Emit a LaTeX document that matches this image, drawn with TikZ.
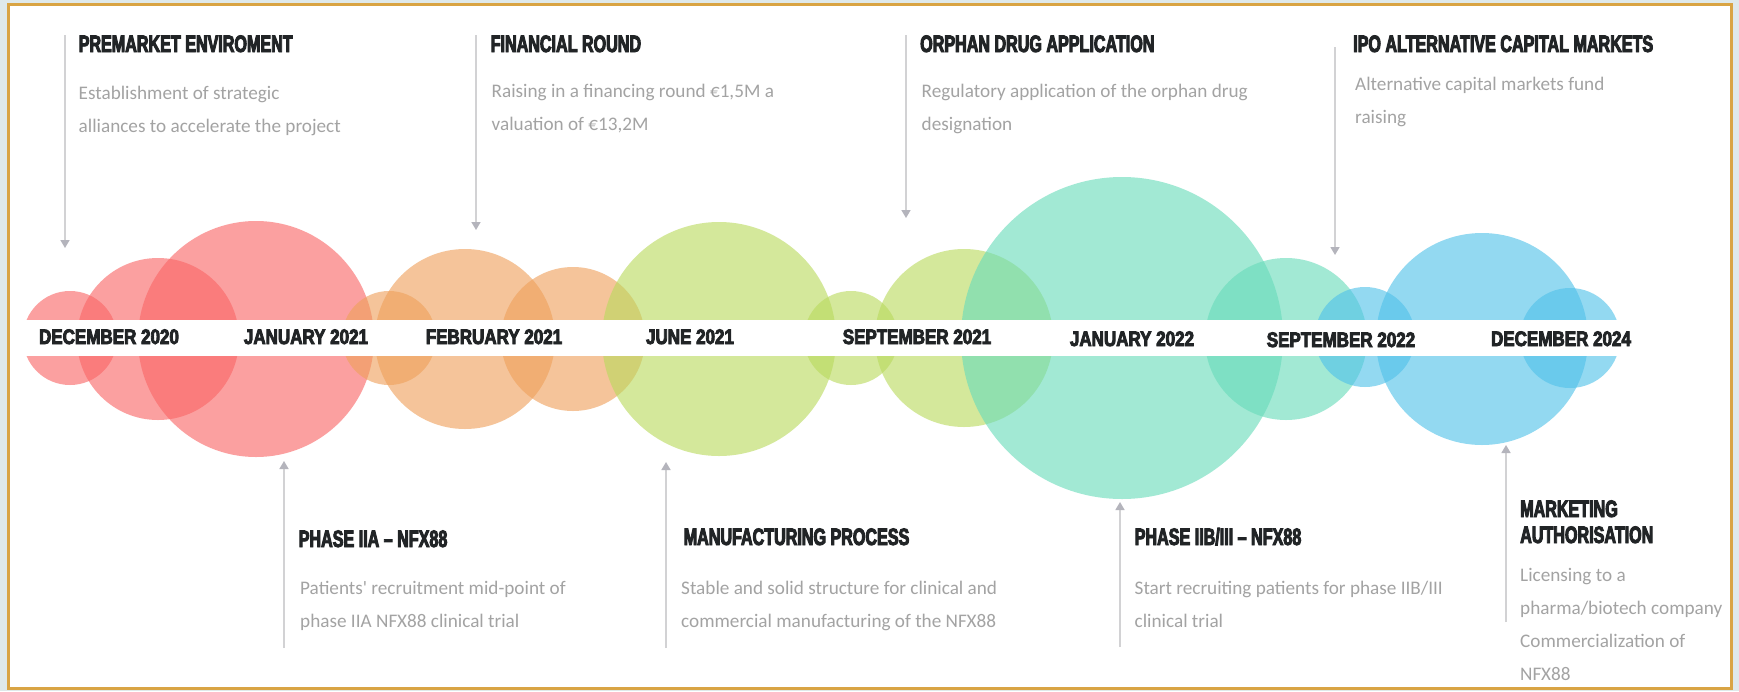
\documentclass[tikz,border=0pt]{standalone}
\usepackage{fontspec}
\setmainfont{Carlito}
\newfontfamily\headfont{Liberation Sans Bold}[FakeStretch=0.68, FakeBold=4]
\newfontfamily\datefont{Liberation Sans Bold}[FakeStretch=0.81, FakeBold=4]
\usetikzlibrary{arrows.meta}

\definecolor{headgray}{HTML}{212426}
\definecolor{bodygray}{HTML}{A3A3A3}
\definecolor{arrowgray}{HTML}{D2D2D4}
\definecolor{tipgray}{HTML}{B4B4BC}
\definecolor{framegold}{HTML}{D9A444}
\definecolor{outerbg}{HTML}{DFE9EA}
\definecolor{redbub}{RGB}{250,102,102}
\definecolor{orangebub}{RGB}{239,161,92}
\definecolor{greenbub}{RGB}{186,218,94}
\definecolor{tealbub}{RGB}{105,220,187}
\definecolor{bluebub}{RGB}{81,194,234}

\begin{document}
\begin{tikzpicture} [x=1pt, y=-1pt,
                bubble/.style={circle, inner sep=0pt, draw=none, fill opacity=0.62},
                datelabel/.style={font=\datefont\fontsize{21}{21}\selectfont, text=headgray, inner sep=0pt, anchor=base},
                heading/.style={font=\headfont\fontsize{23.7}{26}\selectfont, text=headgray, inner sep=0pt, anchor=base west, align=left},
                info/.style={font=\fontsize{19.2}{33}\selectfont, text=bodygray, inner sep=0pt, anchor=base west, align=left}]
                \tikzset{pointer/.style={draw=arrowgray, line width=1.5pt, -{Triangle[width=9pt, length=8pt, color=tipgray]}}}
                \useasboundingbox (0,0) rectangle (1739,691);
                \fill[outerbg] (0,0) rectangle (1739,691);
                \draw[framegold, line width=2.5pt, fill=white] (8.5,4.5) rectangle (1731.5,688.5);
                % bubbles along the time line
                \node[bubble, fill=redbub, minimum size=94pt] (dec20a) at (70,338) {};
                \node[bubble, fill=redbub, minimum size=162pt] (dec20b) at (158,339) {};
                \node[bubble, fill=redbub, minimum size=236pt] (jan21) at (256,339) {};
                \node[bubble, fill=orangebub, minimum size=94pt] (feb21a) at (389,338) {};
                \node[bubble, fill=orangebub, minimum size=180pt] (feb21b) at (465,339) {};
                \node[bubble, fill=orangebub, minimum size=144pt] (feb21c) at (573,339) {};
                \node[bubble, fill=greenbub, minimum size=234pt] (jun21) at (719,339) {};
                \node[bubble, fill=greenbub, minimum size=94pt] (sep21a) at (851,338) {};
                \node[bubble, fill=greenbub, minimum size=178pt] (sep21b) at (964,338) {};
                \node[bubble, fill=tealbub, minimum size=322pt] (jan22) at (1122,338) {};
                \node[bubble, fill=tealbub, minimum size=162pt] (sep22a) at (1286,339) {};
                \node[bubble, fill=bluebub, minimum size=100pt] (sep22b) at (1365,337) {};
                \node[bubble, fill=bluebub, minimum size=212pt] (dec24a) at (1482,339) {};
                \node[bubble, fill=bluebub, minimum size=100pt] (dec24b) at (1570,338) {};
                \fill[white] (20,320) rectangle (1640,355.5);
                % dates
                \node[datelabel] (d1) at (109,344) {DECEMBER 2020};
                \node[datelabel] (d2) at (306,344) {JANUARY 2021};
                \node[datelabel] (d3) at (494,344) {FEBRUARY 2021};
                \node[datelabel] (d4) at (690,344) {JUNE 2021};
                \node[datelabel] (d5) at (917,344) {SEPTEMBER 2021};
                \node[datelabel] (d6) at (1132,346) {JANUARY 2022};
                \node[datelabel] (d7) at (1341,347) {SEPTEMBER 2022};
                \node[datelabel] (d8) at (1561,346) {DECEMBER 2024};
                % milestones above
                \node[heading] (h1) at (78.5,52) {PREMARKET ENVIROMENT};
                \node[info] (t1) at (78.5,132) {Establishment of strategic\\alliances to accelerate the project};
                \node[heading] (h2) at (490.5,52) {FINANCIAL ROUND};
                \node[info] (t2) at (491.5,130) {Raising in a financing round €1,5M a\\valuation of €13,2M};
                \node[heading] (h3) at (920,52) {ORPHAN DRUG APPLICATION};
                \node[info] (t3) at (921.5,130) {Regulatory application of the orphan drug\\designation};
                \node[heading] (h4) at (1353,52) {IPO ALTERNATIVE CAPITAL MARKETS};
                \node[info] (t4) at (1355,123) {Alternative capital markets fund\\raising};
                % milestones below
                \node[heading] (h5) at (298.5,547) {PHASE IIA – NFX88};
                \node[info] (t5) at (300,627) {Patients\textquotesingle{} recruitment mid-point of\\phase IIA NFX88 clinical trial};
                \node[heading] (h6) at (683.5,545) {MANUFACTURING PROCESS};
                \node[info] (t6) at (681,627) {Stable and solid structure for clinical and\\commercial manufacturing of the NFX88};
                \node[heading] (h7) at (1134.5,545) {PHASE IIB/III – NFX88};
                \node[info] (t7) at (1134.5,627) {Start recruiting patients for phase IIB/III\\clinical trial};
                \node[heading] (h8) at (1520,543) {MARKETING\\AUTHORISATION};
                \node[info] (t8) at (1520,680) {Licensing to a\\pharma/biotech company\\Commercialization of\\NFX88};
                % pointers
                \coordinate (p1s) at (65,35);
                \coordinate (p1e) at (65,248);
                \coordinate (p2s) at (476,35);
                \coordinate (p2e) at (476,230);
                \coordinate (p3s) at (906,35);
                \coordinate (p3e) at (906,218);
                \coordinate (p4s) at (1335,47);
                \coordinate (p4e) at (1335,255);
                \coordinate (p5s) at (284,648);
                \coordinate (p5e) at (284,461);
                \coordinate (p6s) at (666,648);
                \coordinate (p6e) at (666,462);
                \coordinate (p7s) at (1120,647);
                \coordinate (p7e) at (1120,502);
                \coordinate (p8s) at (1506,622);
                \coordinate (p8e) at (1506,445);
                \draw[pointer] (p1s) -- (p1e);
                \draw[pointer] (p2s) -- (p2e);
                \draw[pointer] (p3s) -- (p3e);
                \draw[pointer] (p4s) -- (p4e);
                \draw[pointer] (p5s) -- (p5e);
                \draw[pointer] (p6s) -- (p6e);
                \draw[pointer] (p7s) -- (p7e);
                \draw[pointer] (p8s) -- (p8e);
            \end{tikzpicture}
\end{document}
